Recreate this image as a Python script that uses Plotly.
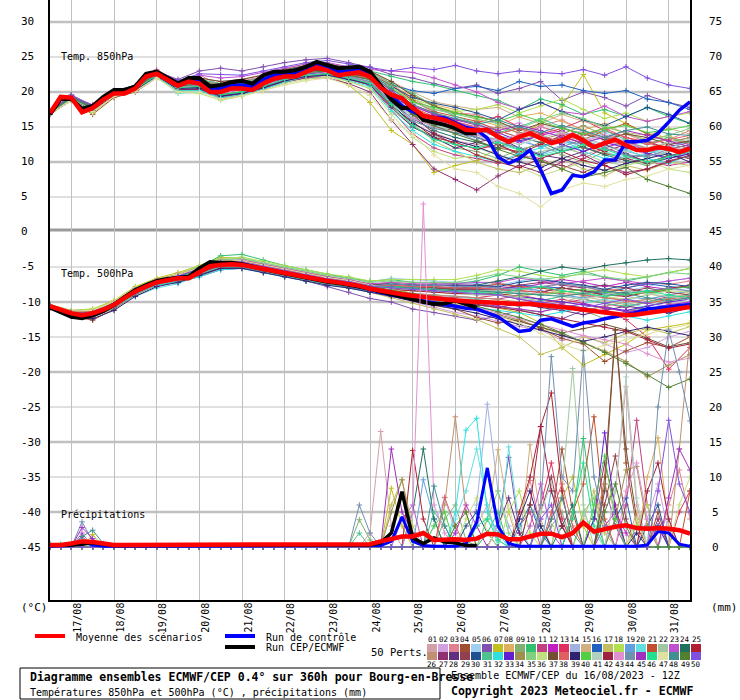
import plotly.graph_objects as go

# ---------------- DATA ----------------
H6 = list(range(0, 361, 6))      # 6-hourly steps (0..360 h from 16/08 12Z)
H12 = list(range(0, 361, 12))    # 12-hourly steps for members' temperatures

MEAN_850 = [17.0, 19.3, 19.2, 17.1, 17.7, 18.9, 19.8, 19.8, 20.5, 22.2, 22.6, 21.7, 20.9, 21.5, 21.2, 20.0,
            20.0, 20.5, 20.5, 20.3, 21.2, 21.9, 22.2, 22.2, 22.9, 23.5, 23.1, 22.4, 22.6, 22.8, 22.2, 20.6,
            19.6, 19.1, 17.7, 16.6, 16.3, 16.0, 15.4, 14.6, 14.5, 14.6, 13.6, 12.9, 13.6, 14.1, 13.4, 12.7,
            13.1, 13.9, 13.1, 12.1, 12.7, 13.2, 12.4, 11.7, 11.7, 12.1, 11.9, 11.4, 11.9]
RUN_850 = [16.8, 19.0, 19.0, 17.6, 18.0, 19.3, 20.3, 20.3, 20.8, 22.6, 22.9, 22.0, 21.2, 22.0, 22.0, 20.8,
           21.0, 21.4, 21.6, 21.2, 22.4, 22.9, 22.9, 23.1, 23.6, 24.3, 23.9, 23.4, 23.5, 23.6, 22.9, 20.9,
           18.9, 17.7, 17.8, 16.0, 15.7, 15.3, 14.8, 14.1, 14.1]
CTRL_850 = [17.0, 19.2, 19.1, 17.3, 17.8, 19.0, 20.0, 20.0, 20.6, 22.4, 22.8, 21.8, 21.0, 21.8, 21.6, 20.4,
            20.5, 21.0, 21.0, 20.8, 21.8, 22.4, 22.6, 22.6, 23.2, 23.9, 23.5, 22.9, 23.0, 23.1, 22.5, 20.8,
            19.5, 18.0, 17.2, 16.6, 16.4, 16.3, 15.6, 14.9, 14.6, 13.4, 10.7, 9.8, 10.5, 11.7, 8.9, 5.5,
            6.0, 8.1, 7.9, 8.6, 10.3, 10.3, 12.9, 12.9, 13.1, 14.1, 15.7, 17.4, 18.6]

MEAN_500 = [-10.6, -11.1, -11.6, -11.9, -11.6, -11.1, -10.4, -9.4, -8.5, -7.8, -7.2, -6.9, -6.6, -6.6, -5.7,
            -4.9, -4.7, -4.6, -4.7, -5.0, -5.3, -5.6, -5.9, -6.1, -6.4, -6.8, -7.0, -7.2, -7.4, -7.7, -8.1,
            -8.4, -8.7, -8.9, -9.1, -9.3, -9.5, -9.7, -9.8, -9.9, -10.0, -10.0, -10.1, -10.2, -10.3, -10.3,
            -10.4, -10.6, -10.7, -10.9, -11.1, -11.3, -11.5, -11.7, -11.9, -11.8, -11.6, -11.4, -11.2, -11.0, -10.7]
RUN_500 = [-10.8, -11.5, -12.1, -12.3, -11.9, -11.3, -10.4, -9.3, -8.3, -7.6, -7.0, -6.7, -6.5, -6.4, -5.2,
           -4.3, -4.4, -4.4, -4.6, -5.0, -5.3, -5.6, -5.9, -6.2, -6.5, -6.9, -7.1, -7.3, -7.5, -7.8, -8.1,
           -8.5, -8.9, -9.2, -9.6, -10.0, -10.3, -10.2, -9.8, -10.3, -10.8]
CTRL_500 = [-10.7, -11.2, -11.7, -12.0, -11.7, -11.1, -10.3, -9.3, -8.4, -7.7, -7.1, -6.8, -6.5, -6.4, -5.5,
            -4.7, -4.6, -4.5, -4.7, -5.0, -5.3, -5.6, -5.9, -6.2, -6.5, -6.8, -7.0, -7.2, -7.5, -7.8, -8.2,
            -8.6, -9.0, -9.3, -9.6, -9.9, -10.1, -10.4, -10.6, -10.9, -11.0, -11.5, -12.1, -13.2, -14.2, -14.0,
            -12.6, -12.4, -13.0, -13.5, -13.0, -12.8, -12.4, -12.1, -11.9, -11.5, -11.0, -10.9, -10.7, -10.5, -10.4]

MEAN_PR = [0.3, 0.3, 0.5, 0.8, 0.7, 0.5, 0.3, 0.3, 0.3, 0.3, 0.3, 0.3, 0.3, 0.3, 0.3, 0.3, 0.3, 0.3, 0.3, 0.3,
           0.3, 0.3, 0.3, 0.3, 0.3, 0.3, 0.3, 0.3, 0.3, 0.3, 0.4, 0.8, 1.2, 1.5, 1.5, 2.0, 1.0, 1.1, 1.1, 1.0,
           1.2, 1.9, 1.8, 1.1, 1.1, 1.5, 1.9, 1.9, 1.4, 2.0, 3.5, 2.2, 2.6, 2.9, 3.1, 2.7, 2.6, 2.7, 2.6, 2.4, 1.9]
RUN_PR = [0.2, 0.2, 0.3, 0.4, 0.6, 0.4, 0.2, 0.2, 0.2, 0.2, 0.2, 0.2, 0.2, 0.2, 0.2, 0.2, 0.2, 0.2, 0.2, 0.2,
          0.2, 0.2, 0.2, 0.2, 0.2, 0.2, 0.2, 0.2, 0.2, 0.2, 0.3, 0.6, 2.0, 7.9, 1.3, 0.5, 1.3, 0.7, 0.6, 0.2, 0.2]
CTRL_PR = [0.1, 0.1, 0.2, 0.8, 0.3, 0.1, 0.1, 0.1, 0.1, 0.1, 0.1, 0.1, 0.1, 0.1, 0.1, 0.1, 0.1, 0.1, 0.1, 0.1,
           0.1, 0.1, 0.1, 0.1, 0.1, 0.1, 0.1, 0.1, 0.1, 0.1, 0.1, 0.2, 0.8, 4.3, 0.8, 0.2, 0.1, 0.1, 0.1, 0.5,
           3.5, 11.3, 3.0, 0.5, 0.1, 0.1, 0.1, 0.1, 0.1, 0.1, 0.1, 0.1, 0.1, 0.1, 0.1, 0.1, 0.3, 2.2, 2.0, 0.4, 0.1]

MEMBERS_850 = [
    [17.2, 19.5, 17.9, 20.1, 20.6, 23.0, 21.4, 22.0, 21.5, 21.8, 22.5, 23.4, 24.0, 23.8, 23.0, 22.5, 19.8, 16.5, 14.2, 13.0, 12.5, 11.8, 13.2, 14.0, 12.5, 11.0, 12.0, 13.5, 12.8, 11.5, 12.2],
    [16.9, 19.0, 17.5, 19.6, 20.3, 22.2, 20.5, 20.8, 19.5, 20.0, 21.0, 22.0, 22.8, 23.0, 22.4, 22.0, 20.5, 18.8, 17.0, 16.2, 15.5, 14.8, 15.6, 14.2, 13.8, 14.5, 13.0, 12.2, 11.0, 12.5, 13.0],
    [17.1, 19.3, 18.2, 20.2, 20.9, 23.2, 21.5, 22.4, 21.0, 21.6, 22.2, 23.0, 23.5, 24.0, 23.4, 23.0, 21.2, 19.0, 17.5, 17.0, 16.8, 15.5, 14.0, 15.2, 16.0, 14.5, 13.5, 14.0, 12.8, 13.2, 14.5],
    [16.8, 18.8, 16.8, 19.2, 20.0, 22.0, 20.2, 20.5, 19.8, 20.2, 21.4, 22.5, 23.2, 23.6, 22.8, 22.4, 19.0, 16.8, 15.0, 14.5, 13.0, 12.0, 11.5, 12.8, 13.5, 12.0, 11.2, 10.5, 11.0, 12.5, 12.0],
    [17.0, 19.1, 17.6, 19.8, 20.4, 22.5, 20.8, 21.0, 20.2, 20.8, 21.5, 22.4, 23.0, 23.2, 22.5, 21.8, 18.5, 16.0, 15.5, 14.0, 13.2, 14.5, 13.5, 12.0, 11.5, 13.0, 14.2, 13.0, 12.0, 11.0, 10.5],
    [17.3, 19.6, 18.0, 20.0, 20.8, 22.9, 21.8, 23.0, 23.4, 23.0, 23.6, 24.2, 24.6, 24.8, 24.2, 23.5, 22.5, 22.0, 21.2, 20.5, 21.0, 19.8, 20.5, 21.5, 18.8, 20.0, 19.2, 18.0, 19.5, 18.5, 17.8],
    [16.9, 19.0, 17.0, 19.4, 20.2, 22.3, 20.0, 20.5, 19.0, 19.5, 20.5, 21.5, 22.0, 22.5, 21.0, 18.5, 14.5, 12.5, 8.5, 9.5, 10.2, 12.0, 14.0, 15.5, 18.0, 22.5, 17.0, 15.5, 14.0, 13.5, 12.5],
    [17.1, 19.2, 17.8, 19.9, 20.6, 22.7, 21.0, 21.6, 20.8, 21.0, 21.8, 22.8, 23.4, 23.2, 22.8, 22.4, 20.8, 19.5, 18.2, 17.5, 16.0, 15.2, 16.5, 17.0, 15.8, 14.6, 15.5, 14.0, 13.2, 13.8, 12.5],
    [17.0, 19.2, 17.4, 19.7, 20.4, 22.4, 20.6, 20.6, 19.6, 20.2, 20.8, 21.8, 22.5, 22.6, 22.0, 21.5, 18.0, 15.0, 13.5, 12.0, 11.5, 10.5, 11.8, 12.5, 11.0, 10.0, 11.5, 10.2, 9.5, 10.8, 11.5],
    [17.2, 19.4, 18.0, 20.0, 20.7, 22.8, 21.2, 21.4, 20.5, 21.0, 21.6, 22.6, 23.2, 23.6, 23.2, 23.0, 22.2, 21.5, 21.0, 20.2, 19.5, 18.8, 17.5, 19.0, 18.2, 16.8, 17.5, 16.5, 17.8, 16.5, 15.5],
    [16.8, 18.9, 17.2, 19.5, 20.2, 22.3, 20.4, 20.2, 19.0, 19.6, 20.4, 21.4, 22.0, 22.4, 21.8, 21.0, 17.5, 14.0, 12.0, 11.0, 10.5, 9.8, 11.0, 10.5, 9.0, 10.5, 12.0, 11.0, 10.0, 9.5, 10.0],
    [17.1, 19.3, 17.8, 19.9, 20.5, 22.6, 21.0, 21.5, 20.4, 20.6, 21.2, 22.2, 22.8, 23.4, 23.0, 22.6, 20.2, 18.0, 16.8, 15.8, 14.8, 13.5, 12.8, 13.8, 14.5, 13.0, 12.0, 13.0, 11.5, 12.2, 12.8],
    [17.0, 19.1, 17.6, 19.7, 20.4, 22.5, 20.8, 21.2, 20.0, 20.4, 21.0, 22.0, 22.6, 23.0, 22.5, 22.0, 20.0, 18.2, 17.0, 16.0, 15.6, 16.5, 15.0, 14.0, 14.8, 16.0, 14.5, 13.5, 12.8, 11.8, 11.0],
    [16.9, 19.0, 17.4, 19.6, 20.3, 22.4, 20.7, 21.0, 20.0, 20.6, 21.0, 21.8, 22.5, 22.8, 22.2, 21.5, 19.0, 17.2, 16.0, 15.0, 14.0, 13.0, 12.0, 11.0, 12.5, 13.5, 12.5, 11.5, 10.8, 11.5, 12.0],
    [17.2, 19.4, 17.9, 20.1, 20.8, 22.9, 21.2, 21.8, 21.2, 21.4, 22.0, 22.8, 23.6, 23.8, 23.2, 22.8, 21.5, 20.0, 18.6, 18.0, 17.5, 17.8, 16.4, 15.5, 16.8, 15.8, 15.0, 14.2, 13.8, 14.8, 14.0],
    [17.0, 19.2, 17.7, 19.8, 20.5, 22.6, 20.9, 21.6, 20.8, 21.2, 22.0, 23.0, 23.8, 23.5, 22.8, 22.4, 21.0, 20.2, 19.8, 20.5, 20.8, 20.2, 21.5, 20.8, 21.0, 20.2, 19.8, 20.2, 19.0, 18.5, 17.5],
    [17.1, 19.3, 17.9, 19.9, 20.6, 22.5, 20.6, 21.0, 19.8, 20.2, 21.0, 22.2, 22.8, 23.0, 22.2, 21.2, 18.2, 15.5, 13.0, 11.5, 10.0, 9.0, 8.5, 9.5, 10.5, 9.0, 8.0, 9.5, 8.8, 10.0, 9.5],
    [16.9, 19.0, 17.5, 19.6, 20.4, 22.4, 20.8, 21.4, 20.5, 20.8, 21.4, 22.4, 23.0, 23.0, 22.4, 22.0, 20.5, 19.0, 18.0, 17.2, 17.5, 18.2, 17.0, 18.0, 19.0, 17.5, 16.2, 17.0, 15.8, 16.5, 17.0],
    [17.0, 19.2, 17.8, 19.8, 20.5, 22.7, 21.1, 21.2, 20.2, 20.8, 21.4, 22.2, 22.8, 23.2, 22.6, 22.2, 19.8, 17.0, 15.5, 15.0, 14.5, 13.8, 13.0, 12.2, 13.0, 12.5, 13.8, 12.5, 11.8, 10.5, 11.5],
    [17.2, 19.4, 17.6, 20.0, 20.4, 22.2, 19.8, 20.0, 19.2, 19.8, 20.6, 21.8, 22.4, 22.8, 22.2, 21.6, 18.8, 16.5, 14.8, 14.2, 13.5, 12.5, 11.8, 11.0, 11.8, 12.8, 11.5, 10.5, 11.2, 12.0, 13.0],
    [17.0, 19.1, 17.6, 19.7, 20.3, 22.5, 20.8, 21.6, 21.0, 21.5, 22.0, 22.8, 23.4, 23.6, 22.8, 22.6, 21.0, 18.8, 17.2, 16.5, 15.8, 14.5, 13.5, 15.0, 14.2, 13.2, 14.5, 15.5, 14.0, 13.0, 12.8],
    [16.9, 19.0, 17.5, 19.6, 20.3, 22.3, 20.5, 20.8, 19.8, 20.2, 21.2, 22.0, 22.5, 22.5, 21.5, 20.5, 17.5, 15.0, 13.8, 12.5, 12.0, 11.0, 10.2, 11.5, 12.0, 11.2, 10.0, 9.5, 10.5, 11.5, 12.0],
    [17.1, 19.3, 17.8, 19.9, 20.6, 22.8, 21.4, 22.4, 22.0, 22.2, 22.8, 23.4, 24.0, 24.2, 23.6, 23.2, 23.0, 22.8, 22.0, 21.0, 20.0, 18.5, 17.6, 18.5, 17.2, 16.8, 18.0, 16.5, 15.8, 16.5, 17.2],
    [17.0, 19.2, 17.7, 19.8, 20.4, 22.5, 20.6, 20.6, 19.6, 20.0, 20.8, 21.8, 22.4, 22.8, 22.0, 21.4, 18.5, 16.2, 14.5, 13.5, 12.8, 12.0, 13.5, 12.8, 11.5, 12.2, 11.0, 10.2, 9.8, 10.5, 11.2],
    [16.8, 18.9, 17.3, 19.5, 20.2, 22.3, 20.3, 20.4, 19.2, 19.8, 20.6, 21.6, 22.2, 22.6, 21.8, 21.0, 18.0, 15.8, 13.5, 12.8, 11.8, 12.5, 11.2, 12.5, 13.8, 12.5, 11.5, 12.5, 13.0, 11.8, 12.5],
    [17.2, 19.5, 18.0, 20.0, 20.7, 22.8, 21.2, 21.8, 21.0, 21.4, 21.8, 22.6, 23.2, 23.4, 22.8, 22.2, 20.0, 17.8, 16.2, 15.2, 14.8, 14.0, 14.8, 13.5, 13.0, 14.2, 13.5, 12.0, 11.5, 12.8, 13.5],
    [17.0, 19.2, 17.6, 19.7, 20.3, 22.4, 20.6, 20.8, 19.5, 19.8, 20.5, 21.5, 22.0, 22.0, 21.2, 20.0, 16.0, 12.5, 9.0, 7.5, 6.0, 8.0, 9.5, 8.5, 10.0, 11.0, 9.5, 8.5, 9.0, 10.2, 10.8],
    [16.9, 19.0, 17.4, 19.6, 20.2, 22.2, 20.4, 20.4, 19.4, 19.8, 20.8, 21.8, 22.6, 22.8, 22.0, 21.0, 17.8, 15.0, 13.5, 12.0, 12.8, 13.5, 12.0, 11.0, 10.5, 11.5, 12.5, 11.2, 10.0, 10.8, 11.8],
    [17.1, 19.3, 17.8, 19.9, 20.5, 22.6, 21.0, 21.2, 20.4, 20.8, 21.6, 22.6, 23.0, 23.2, 22.6, 22.0, 19.5, 17.0, 15.5, 14.8, 13.5, 12.5, 11.0, 10.0, 9.5, 8.5, 9.8, 10.5, 9.8, 11.0, 10.5],
    [17.0, 19.2, 17.7, 19.8, 20.5, 22.6, 20.9, 21.4, 20.6, 21.0, 21.6, 22.4, 23.0, 23.4, 22.8, 22.4, 20.8, 19.2, 18.4, 17.8, 17.0, 16.0, 17.5, 18.5, 17.2, 16.0, 15.2, 16.5, 17.8, 16.8, 15.5],
    [17.2, 19.4, 17.9, 20.0, 20.7, 22.8, 21.3, 21.8, 21.2, 21.5, 22.0, 23.0, 23.5, 23.6, 23.0, 22.8, 21.2, 19.8, 18.0, 16.5, 15.5, 14.2, 15.0, 16.2, 15.0, 13.8, 14.5, 13.2, 12.5, 13.5, 12.8],
    [16.9, 19.0, 17.3, 19.6, 20.3, 22.2, 20.2, 20.2, 19.2, 19.6, 20.4, 21.4, 22.2, 22.4, 21.6, 20.8, 17.2, 14.5, 12.5, 11.5, 10.8, 10.0, 11.2, 12.0, 13.2, 11.5, 10.5, 11.8, 10.5, 9.8, 11.0],
    [17.0, 19.1, 17.5, 19.7, 20.4, 22.4, 20.6, 21.0, 19.8, 20.4, 21.0, 22.0, 22.6, 22.8, 22.2, 21.8, 19.6, 17.5, 16.0, 15.4, 14.8, 14.2, 13.0, 13.8, 12.5, 11.5, 12.8, 12.0, 11.2, 10.5, 11.2],
    [17.1, 19.3, 17.7, 19.9, 20.5, 22.6, 20.8, 21.2, 20.2, 20.6, 21.2, 22.2, 22.8, 23.0, 22.4, 21.8, 19.2, 16.8, 15.8, 15.0, 14.2, 15.0, 14.2, 13.2, 14.0, 15.2, 13.8, 12.8, 12.0, 12.8, 13.5],
    [17.0, 19.2, 17.8, 19.8, 20.6, 22.7, 21.1, 21.5, 20.6, 21.0, 21.8, 22.6, 23.2, 23.4, 22.8, 22.5, 20.8, 18.5, 17.5, 16.8, 16.2, 15.5, 14.8, 16.0, 17.0, 16.2, 15.0, 14.2, 13.0, 13.8, 14.8],
    [16.8, 18.8, 17.0, 19.4, 20.1, 22.0, 20.0, 19.8, 18.8, 19.4, 20.2, 21.2, 21.8, 22.2, 21.5, 20.5, 16.8, 13.5, 11.5, 10.5, 11.0, 10.2, 9.2, 8.0, 9.0, 10.0, 8.8, 9.5, 10.2, 9.0, 8.5],
    [17.2, 19.4, 18.0, 20.0, 20.7, 22.8, 21.3, 22.0, 21.5, 21.8, 22.4, 23.2, 23.8, 24.0, 23.5, 23.0, 21.5, 19.5, 18.0, 17.0, 16.5, 15.8, 14.5, 15.5, 14.8, 14.0, 13.2, 14.0, 13.5, 12.5, 13.0],
    [17.0, 19.1, 17.6, 19.7, 20.4, 22.4, 20.7, 21.0, 20.0, 20.4, 21.2, 22.2, 22.8, 23.0, 22.4, 22.0, 19.8, 17.8, 16.5, 15.8, 15.0, 14.0, 14.8, 13.8, 12.8, 13.8, 14.8, 13.5, 12.5, 13.2, 13.8],
    [16.9, 19.0, 17.4, 19.5, 20.3, 22.3, 20.5, 20.6, 19.4, 19.8, 20.6, 21.6, 22.2, 22.4, 21.8, 21.2, 18.2, 15.5, 14.0, 13.0, 12.2, 11.0, 10.0, 9.2, 10.5, 9.5, 8.8, 9.8, 10.5, 11.2, 10.0],
    [17.1, 19.3, 17.8, 19.9, 20.6, 22.6, 21.0, 21.4, 20.6, 21.0, 21.6, 22.6, 23.2, 23.4, 22.6, 22.2, 20.4, 18.6, 17.8, 17.0, 16.4, 15.8, 16.8, 15.8, 14.8, 14.0, 14.8, 15.2, 14.2, 14.6, 15.2],
    [17.0, 19.2, 17.7, 19.8, 20.5, 22.5, 20.8, 21.2, 20.2, 20.6, 21.2, 22.2, 22.8, 23.0, 22.2, 21.6, 19.0, 16.5, 15.2, 14.6, 14.0, 13.2, 12.5, 13.5, 14.2, 13.5, 12.2, 11.5, 12.0, 12.8, 13.2],
    [17.2, 19.4, 17.9, 20.0, 20.6, 22.7, 21.1, 21.4, 20.4, 20.8, 21.4, 22.4, 23.0, 23.2, 22.6, 22.2, 19.6, 16.8, 14.0, 12.5, 11.0, 10.0, 9.2, 10.5, 11.5, 10.2, 9.5, 8.2, 9.0, 10.0, 11.0],
    [16.9, 19.0, 17.5, 19.6, 20.4, 22.4, 20.6, 21.0, 19.8, 20.4, 21.0, 21.8, 22.4, 22.8, 22.0, 21.4, 18.8, 16.2, 15.0, 14.2, 13.8, 13.0, 14.0, 15.0, 14.0, 13.0, 13.8, 12.8, 11.8, 12.2, 11.5],
    [17.0, 19.2, 17.6, 19.8, 20.5, 22.5, 20.8, 21.0, 20.0, 20.5, 21.2, 22.0, 22.6, 23.0, 22.2, 21.5, 18.5, 15.8, 14.8, 14.2, 13.5, 12.8, 12.0, 11.2, 12.2, 13.2, 12.0, 11.0, 10.8, 11.8, 12.5],
    [17.1, 19.3, 17.8, 19.9, 20.6, 22.7, 21.0, 21.4, 20.4, 21.0, 21.6, 22.6, 23.2, 23.4, 22.8, 22.4, 20.2, 18.0, 16.8, 16.0, 15.2, 14.5, 15.2, 14.5, 13.5, 12.8, 13.5, 14.5, 13.8, 13.0, 12.2],
    [17.0, 19.1, 17.6, 19.7, 20.4, 22.4, 20.6, 20.8, 19.6, 20.0, 20.8, 21.8, 22.4, 22.6, 22.0, 21.2, 18.2, 15.2, 13.2, 12.5, 12.0, 12.8, 11.8, 10.8, 11.5, 12.5, 11.8, 10.8, 10.0, 10.8, 11.5],
    [16.9, 18.9, 17.2, 19.4, 20.1, 22.0, 20.0, 20.0, 19.0, 19.5, 20.2, 21.0, 21.6, 22.0, 21.0, 19.5, 16.0, 14.0, 11.0, 9.0, 8.5, 6.5, 5.5, 3.6, 6.0, 7.0, 6.5, 7.5, 8.0, 9.0, 9.5],
    [17.1, 19.4, 17.9, 20.0, 20.6, 22.8, 21.2, 21.6, 20.8, 21.2, 21.8, 22.8, 23.4, 23.6, 23.0, 22.6, 20.5, 18.2, 17.0, 16.2, 15.4, 16.0, 15.0, 14.2, 15.2, 14.5, 13.5, 14.5, 15.0, 14.0, 13.8],
    [17.0, 19.2, 17.7, 19.8, 20.5, 22.6, 20.8, 21.2, 20.2, 20.6, 21.2, 22.2, 22.8, 23.0, 22.4, 21.8, 19.2, 16.8, 15.2, 14.0, 13.0, 11.8, 10.8, 10.2, 9.0, 7.8, 8.5, 9.2, 7.5, 6.5, 5.5],
    [17.2, 19.5, 18.1, 20.2, 20.9, 23.0, 21.6, 22.6, 22.5, 22.4, 23.0, 23.6, 24.2, 24.5, 24.0, 23.6, 23.0, 23.5, 23.2, 23.8, 23.0, 22.6, 23.0, 22.8, 22.6, 23.2, 22.4, 23.6, 22.0, 21.0, 20.5],
]

MEMBERS_500 = [
    [-10.5, -11.4, -11.8, -10.2, -8.2, -7.0, -6.2, -5.2, -4.2, -4.4, -5.0, -5.6, -6.0, -6.8, -7.0, -7.6, -7.2, -7.4, -7.8, -7.5, -7.8, -8.0, -8.6, -9.0, -8.2, -7.5, -8.4, -9.2, -8.6, -8.0, -7.8],
    [-10.7, -11.8, -11.4, -10.6, -8.8, -7.5, -6.8, -5.8, -4.8, -4.6, -5.4, -6.2, -6.8, -7.2, -7.8, -8.4, -9.2, -10.0, -10.8, -11.5, -12.0, -12.8, -13.5, -14.0, -15.5, -14.8, -16.0, -17.2, -16.5, -15.0, -14.2],
    [-10.6, -11.5, -11.7, -10.3, -8.4, -7.0, -6.4, -5.5, -4.5, -4.5, -5.0, -5.5, -6.0, -6.6, -7.0, -7.6, -7.4, -7.6, -7.5, -7.8, -7.9, -7.2, -7.8, -8.0, -7.4, -7.8, -8.6, -8.0, -7.2, -7.5, -7.0],
    [-10.8, -12.0, -12.6, -11.0, -9.0, -7.6, -7.0, -6.2, -5.2, -5.0, -5.6, -6.2, -6.8, -7.4, -7.8, -8.6, -9.0, -9.8, -10.5, -11.0, -12.2, -13.0, -12.5, -13.8, -15.2, -16.0, -18.5, -17.0, -15.8, -16.5, -15.0],
    [-10.5, -11.3, -11.2, -10.0, -8.0, -6.8, -6.0, -5.0, -3.8, -3.6, -4.4, -5.0, -5.6, -6.2, -6.6, -7.2, -6.6, -6.8, -7.0, -7.2, -7.4, -7.6, -7.0, -6.6, -7.2, -7.8, -7.6, -8.4, -7.8, -7.0, -6.6],
    [-10.6, -11.6, -12.0, -10.8, -8.8, -7.6, -7.2, -6.4, -5.4, -5.2, -5.8, -6.4, -7.0, -7.8, -8.6, -9.5, -10.0, -11.0, -11.5, -12.0, -12.6, -12.0, -11.2, -11.8, -12.4, -11.2, -10.6, -11.4, -11.0, -11.6, -10.8],
    [-10.4, -11.2, -11.0, -9.8, -7.8, -6.6, -5.8, -4.8, -3.6, -3.8, -4.6, -5.2, -5.8, -6.4, -7.0, -7.5, -8.0, -8.8, -9.2, -9.8, -10.2, -10.8, -11.5, -13.0, -16.5, -19.0, -17.5, -16.0, -14.0, -13.5, -13.0],
    [-10.7, -11.7, -11.6, -10.5, -8.6, -7.2, -6.6, -5.6, -4.6, -4.8, -5.4, -6.0, -6.5, -7.0, -7.4, -8.0, -7.8, -8.0, -8.0, -8.2, -8.2, -8.2, -8.4, -7.8, -8.4, -9.0, -8.6, -8.0, -8.8, -9.4, -8.8],
    [-10.6, -11.6, -11.5, -10.4, -8.4, -7.1, -6.5, -5.4, -4.4, -4.4, -5.2, -5.8, -6.4, -7.0, -7.6, -8.2, -8.4, -8.8, -9.4, -10.0, -10.4, -10.6, -11.2, -11.4, -10.6, -11.2, -12.4, -11.4, -10.6, -9.8, -9.4],
    [-10.5, -11.4, -11.3, -10.1, -8.2, -6.9, -6.2, -5.0, -3.4, -3.2, -4.0, -4.8, -5.4, -6.0, -6.6, -7.0, -6.8, -7.2, -7.2, -7.4, -7.0, -6.2, -5.0, -5.6, -6.2, -5.6, -6.5, -7.0, -6.4, -5.8, -5.2],
    [-10.7, -11.8, -12.2, -10.8, -8.8, -7.4, -6.8, -5.8, -4.8, -4.8, -5.4, -6.0, -6.6, -7.2, -7.8, -8.4, -8.6, -8.8, -9.0, -9.2, -9.4, -9.6, -9.0, -9.6, -10.2, -9.6, -10.2, -10.8, -10.0, -9.2, -9.6],
    [-10.6, -11.5, -11.6, -10.4, -8.5, -7.2, -6.5, -5.6, -4.4, -4.2, -4.8, -5.4, -6.0, -6.6, -7.2, -7.8, -7.4, -7.6, -7.6, -7.6, -7.6, -7.8, -8.0, -7.4, -6.8, -7.2, -7.8, -7.2, -7.8, -8.2, -7.6],
    [-10.5, -11.5, -11.9, -10.5, -8.5, -7.3, -6.7, -5.8, -4.8, -4.8, -5.5, -6.0, -6.6, -7.1, -7.4, -8.0, -8.2, -8.8, -9.2, -9.4, -9.4, -9.0, -9.6, -10.2, -9.6, -10.2, -11.0, -12.5, -15.0, -19.6, -16.5],
    [-10.8, -11.9, -11.8, -10.6, -8.7, -7.4, -6.8, -5.8, -4.8, -4.6, -5.2, -5.8, -6.4, -7.0, -7.4, -8.0, -8.0, -8.2, -8.2, -8.4, -8.4, -8.6, -8.8, -8.0, -8.4, -8.8, -9.4, -9.8, -9.0, -8.2, -8.4],
    [-10.6, -11.6, -11.4, -10.2, -8.2, -7.0, -6.4, -5.4, -4.2, -4.2, -4.8, -5.6, -6.2, -6.8, -7.2, -7.8, -7.6, -8.0, -8.0, -8.2, -8.4, -8.8, -9.2, -9.6, -10.0, -9.2, -9.8, -10.4, -9.6, -9.0, -8.6],
    [-10.5, -11.4, -11.6, -10.4, -8.6, -7.2, -6.5, -5.5, -4.5, -4.6, -5.2, -5.8, -6.3, -6.8, -7.2, -7.8, -7.8, -8.0, -8.0, -8.0, -8.2, -8.4, -7.6, -7.8, -8.0, -8.4, -8.8, -8.0, -7.4, -7.8, -8.0],
    [-10.7, -11.7, -11.9, -10.7, -8.8, -7.5, -6.9, -6.0, -5.0, -5.0, -5.6, -6.2, -6.8, -7.4, -8.0, -8.6, -9.4, -10.2, -11.0, -11.8, -12.5, -13.8, -15.0, -17.5, -16.5, -15.0, -15.8, -14.5, -13.8, -14.5, -13.5],
    [-10.4, -11.2, -11.0, -9.9, -7.9, -6.7, -6.0, -4.8, -3.8, -3.6, -4.2, -4.8, -5.4, -6.0, -6.4, -7.0, -6.8, -6.8, -6.8, -6.8, -6.2, -5.4, -5.6, -6.2, -6.6, -5.8, -5.4, -6.0, -6.4, -5.8, -5.2],
    [-10.6, -11.6, -11.7, -10.5, -8.6, -7.3, -6.7, -5.6, -4.6, -4.6, -5.2, -5.8, -6.4, -7.0, -7.5, -8.1, -8.0, -8.0, -8.2, -8.2, -8.2, -8.4, -8.0, -8.4, -9.0, -9.4, -8.8, -9.2, -9.6, -9.0, -8.4],
    [-10.6, -11.5, -11.6, -10.6, -9.2, -8.0, -7.4, -6.2, -5.0, -4.8, -5.4, -6.0, -6.6, -7.2, -7.6, -8.4, -8.6, -8.8, -9.0, -9.2, -9.6, -10.0, -10.4, -10.6, -11.0, -10.2, -9.6, -10.2, -10.8, -11.2, -10.4],
    [-10.5, -11.4, -11.5, -10.3, -8.3, -7.0, -6.3, -5.3, -4.3, -4.3, -4.9, -5.5, -6.1, -6.7, -7.1, -7.7, -7.6, -7.8, -8.0, -8.2, -8.0, -7.4, -7.8, -8.0, -8.4, -8.8, -8.2, -8.4, -8.8, -8.2, -7.6],
    [-10.7, -11.8, -12.0, -10.8, -8.8, -7.4, -6.8, -5.8, -4.8, -4.8, -5.5, -6.2, -6.8, -7.3, -7.6, -8.2, -8.2, -8.4, -8.6, -8.8, -9.0, -9.0, -9.4, -9.8, -9.2, -8.6, -9.2, -9.8, -10.2, -9.6, -9.0],
    [-10.6, -11.6, -11.5, -10.3, -8.3, -7.0, -6.3, -5.2, -4.0, -4.0, -4.6, -5.2, -5.8, -6.4, -6.8, -7.4, -7.2, -7.4, -7.4, -7.4, -7.2, -7.2, -6.6, -7.0, -7.4, -7.0, -6.6, -7.0, -7.4, -7.0, -6.6],
    [-10.5, -11.5, -11.8, -10.6, -8.6, -7.3, -6.6, -5.6, -4.6, -4.5, -5.1, -5.7, -6.3, -6.9, -7.3, -7.9, -7.8, -8.0, -8.2, -8.2, -7.6, -7.0, -6.4, -5.6, -5.0, -5.4, -4.8, -4.4, -4.0, -3.8, -4.0],
    [-10.6, -11.6, -11.7, -10.5, -8.6, -7.3, -6.7, -5.7, -4.7, -4.7, -5.3, -5.9, -6.5, -7.1, -7.5, -8.1, -8.2, -8.4, -8.6, -8.8, -8.8, -8.8, -9.2, -8.6, -8.0, -8.4, -9.0, -9.2, -8.6, -8.0, -7.8],
    [-10.7, -11.7, -11.8, -10.6, -8.7, -7.4, -6.8, -5.9, -4.9, -4.9, -5.5, -6.1, -6.7, -7.3, -7.7, -8.3, -8.4, -8.8, -9.0, -9.2, -9.4, -9.6, -10.0, -10.4, -10.8, -11.2, -10.6, -10.0, -9.6, -10.2, -10.6],
    [-10.5, -11.3, -11.3, -10.1, -8.1, -6.8, -6.1, -5.1, -4.1, -4.1, -4.7, -5.3, -5.9, -6.5, -6.9, -7.5, -7.4, -7.6, -7.8, -8.0, -8.0, -8.2, -7.6, -7.2, -7.6, -8.0, -7.6, -8.0, -8.6, -8.2, -7.6],
    [-10.6, -11.6, -11.9, -10.7, -8.7, -7.4, -6.9, -6.1, -5.1, -5.1, -5.6, -6.2, -6.8, -7.4, -7.9, -8.5, -8.8, -9.2, -9.6, -10.0, -10.4, -10.8, -10.2, -10.8, -11.2, -11.8, -11.2, -10.6, -11.0, -11.6, -10.8],
    [-10.6, -11.5, -11.6, -10.4, -8.4, -7.1, -6.4, -5.4, -4.4, -4.4, -5.0, -5.6, -6.2, -6.8, -7.2, -7.8, -7.8, -8.0, -8.0, -8.2, -8.2, -8.4, -8.4, -8.6, -8.0, -8.4, -9.0, -8.6, -8.0, -8.6, -9.0],
    [-10.5, -11.4, -11.5, -10.3, -8.3, -7.0, -6.3, -5.2, -4.2, -4.2, -4.8, -5.4, -6.0, -6.6, -7.0, -7.6, -7.4, -7.6, -7.6, -7.6, -7.6, -7.8, -7.2, -6.8, -7.2, -7.6, -8.2, -7.6, -7.2, -7.4, -7.8],
    [-10.7, -11.8, -12.1, -10.9, -8.9, -7.6, -7.0, -6.0, -5.0, -5.0, -5.6, -6.2, -6.8, -7.4, -7.8, -8.4, -8.6, -9.0, -9.2, -9.6, -9.8, -10.2, -10.6, -9.8, -9.2, -9.6, -10.2, -10.6, -10.0, -9.4, -9.0],
    [-10.6, -11.6, -11.6, -10.4, -8.8, -7.6, -7.2, -6.4, -5.4, -5.2, -5.8, -6.4, -7.0, -7.6, -8.0, -8.6, -8.8, -9.2, -9.8, -10.4, -10.8, -11.2, -11.6, -12.0, -11.4, -10.8, -11.4, -12.0, -12.6, -12.0, -11.4],
    [-10.5, -11.4, -11.6, -10.4, -8.4, -7.1, -6.4, -5.4, -4.4, -4.4, -5.0, -5.6, -6.2, -6.8, -7.3, -7.9, -8.0, -8.2, -8.4, -8.6, -8.8, -9.0, -9.2, -9.6, -10.0, -10.4, -10.8, -11.2, -10.6, -10.0, -9.6],
    [-10.6, -11.6, -11.8, -10.6, -8.6, -7.3, -6.7, -5.7, -4.7, -4.7, -5.3, -5.9, -6.5, -7.1, -7.5, -8.1, -8.6, -9.2, -9.8, -10.4, -11.0, -11.8, -12.6, -13.6, -14.6, -15.8, -17.0, -18.5, -20.7, -19.0, -17.5],
    [-10.4, -11.3, -11.4, -10.2, -8.2, -6.9, -6.2, -5.2, -4.0, -3.8, -4.4, -5.0, -5.6, -6.2, -6.6, -7.2, -7.0, -7.2, -7.2, -7.2, -6.6, -6.0, -6.4, -6.8, -6.4, -6.0, -6.4, -6.8, -6.4, -5.8, -6.0],
    [-10.7, -11.7, -11.7, -10.5, -8.5, -7.2, -6.6, -5.6, -4.6, -4.6, -5.2, -5.8, -6.4, -7.0, -7.4, -8.0, -8.0, -8.2, -8.4, -8.6, -8.8, -9.0, -9.2, -8.8, -8.4, -8.8, -9.2, -9.6, -9.0, -8.4, -8.6],
    [-10.6, -11.6, -11.8, -10.6, -8.6, -7.3, -6.7, -5.7, -4.7, -4.7, -5.3, -5.9, -6.5, -7.1, -7.6, -8.2, -8.8, -9.4, -10.0, -10.6, -11.2, -12.0, -12.8, -13.6, -14.4, -13.8, -13.2, -14.0, -15.2, -16.4, -15.8],
    [-10.5, -11.4, -11.4, -10.2, -8.2, -6.9, -6.2, -5.2, -4.2, -4.2, -4.8, -5.4, -6.0, -6.6, -7.0, -7.6, -7.6, -7.8, -7.8, -8.0, -8.0, -8.2, -8.4, -8.6, -8.8, -9.0, -9.4, -9.8, -10.2, -9.6, -9.2],
    [-10.8, -12.0, -12.4, -11.2, -9.2, -7.8, -7.2, -6.2, -5.2, -5.2, -5.8, -6.4, -7.0, -7.6, -8.0, -8.6, -9.2, -9.8, -10.4, -11.0, -11.6, -12.4, -13.2, -14.0, -14.8, -15.6, -15.0, -14.2, -13.6, -14.2, -14.8],
    [-10.6, -11.6, -11.6, -10.4, -8.4, -7.1, -6.5, -5.5, -4.5, -4.5, -5.1, -5.7, -6.3, -6.9, -7.3, -7.9, -7.8, -8.0, -8.2, -8.4, -8.4, -8.6, -8.8, -9.0, -8.6, -8.2, -8.6, -9.0, -8.6, -8.2, -7.8],
    [-10.5, -11.5, -11.7, -10.5, -8.5, -7.2, -6.5, -5.5, -4.5, -4.5, -5.1, -5.7, -6.3, -6.9, -7.3, -7.9, -7.8, -8.0, -8.2, -8.4, -8.4, -8.4, -8.6, -8.8, -9.2, -9.6, -9.0, -8.4, -8.8, -9.2, -9.6],
    [-10.6, -11.6, -11.9, -10.7, -8.7, -7.4, -6.8, -5.8, -4.8, -4.8, -5.4, -6.0, -6.6, -7.2, -7.6, -8.2, -8.8, -9.2, -9.6, -10.0, -10.4, -10.8, -11.2, -11.8, -12.4, -13.0, -13.6, -14.2, -15.4, -16.6, -16.0],
    [-10.6, -11.5, -11.5, -10.3, -8.3, -7.0, -6.3, -5.3, -4.3, -4.3, -4.9, -5.5, -6.1, -6.7, -7.1, -7.8, -8.4, -9.0, -9.6, -10.2, -10.8, -11.6, -12.4, -13.2, -14.0, -14.8, -15.4, -16.0, -17.4, -18.6, -18.0],
    [-10.5, -11.4, -11.6, -10.4, -8.4, -7.1, -6.4, -5.4, -4.4, -4.4, -5.0, -5.6, -6.2, -6.8, -7.2, -7.8, -7.4, -7.6, -7.6, -7.8, -7.8, -8.0, -8.2, -7.8, -7.4, -7.8, -8.4, -8.8, -8.4, -8.0, -8.4],
    [-10.7, -11.8, -11.9, -10.7, -8.7, -7.4, -6.8, -5.8, -4.8, -4.8, -5.4, -6.0, -6.6, -7.2, -7.6, -8.2, -8.6, -9.0, -9.4, -9.8, -10.2, -10.6, -11.0, -11.4, -10.8, -10.2, -10.8, -11.4, -11.0, -10.4, -10.0],
    [-10.6, -11.6, -11.6, -10.4, -8.4, -7.1, -6.5, -5.5, -4.5, -4.5, -5.1, -5.7, -6.3, -6.9, -7.3, -7.9, -7.8, -8.0, -8.2, -8.4, -8.6, -8.8, -8.2, -7.8, -8.4, -8.8, -9.2, -8.8, -8.4, -9.0, -9.4],
    [-10.5, -11.3, -11.2, -10.0, -8.0, -6.8, -6.1, -5.1, -4.1, -4.1, -4.7, -5.3, -5.9, -6.5, -6.9, -7.6, -8.2, -8.8, -9.4, -10.2, -11.0, -12.0, -13.0, -14.5, -16.0, -17.0, -16.2, -15.4, -14.6, -13.8, -13.2],
    [-10.6, -11.6, -11.7, -10.5, -8.5, -7.2, -6.6, -5.6, -4.6, -4.6, -5.2, -5.8, -6.4, -7.0, -7.4, -8.0, -7.8, -8.0, -8.2, -8.4, -8.4, -8.6, -8.8, -9.0, -9.2, -8.8, -8.4, -8.8, -9.4, -9.8, -9.4],
    [-10.5, -11.5, -11.6, -10.4, -8.4, -7.1, -6.4, -5.4, -4.4, -4.4, -5.0, -5.6, -6.2, -6.8, -7.2, -7.8, -8.3, -8.8, -9.4, -10.0, -10.6, -11.4, -12.2, -13.2, -14.4, -15.8, -17.2, -18.8, -20.4, -22.2, -21.0],
    [-10.6, -11.6, -11.5, -10.3, -8.3, -7.0, -6.3, -5.3, -4.3, -4.3, -4.9, -5.5, -6.1, -6.7, -7.1, -7.7, -8.0, -8.2, -8.4, -8.6, -8.8, -9.0, -9.6, -10.0, -10.4, -10.8, -10.2, -9.6, -10.2, -10.6, -10.2],
]

# precipitation (mm) per member, 6-hourly (61 steps)
MEMBERS_PR = [
    [0, 0, 0, 1.0, 0, 0, 0, 0, 0, 0, 0, 0, 0, 0, 0, 0, 0, 0, 0, 0, 0, 0, 0, 0, 0, 0, 0, 0, 0, 0, 2, 16.5, 3, 0, 0, 0, 0, 0, 0, 0, 0, 0, 0, 0, 0, 0, 0, 0, 0, 0, 0, 0, 0, 8, 22.9, 6, 0, 0, 0, 0, 0],
    [0, 0, 0.5, 0, 0, 0, 0, 0, 0, 0, 0, 0, 0, 0, 0, 0, 0, 0, 0, 0, 0, 0, 0, 0, 0, 0, 0, 0, 0, 0, 0, 0, 0, 0, 0, 0, 0, 0, 0, 0, 3, 6, 1, 0, 0, 0, 0, 0, 0, 0, 0, 0, 0, 0, 0, 0, 4, 9, 2, 0, 0],
    [0, 0, 0, 0, 0, 0, 0, 0, 0, 0, 0, 0, 0, 0, 0, 0, 0, 0, 0, 0, 0, 0, 0, 0, 0, 0, 0, 0, 0, 0, 0, 0, 0, 0, 0, 0, 0, 0, 0, 0, 0, 0, 0, 0, 4, 9.5, 3, 0, 0, 0, 0, 0, 0, 0, 0, 0, 0, 0, 6, 11, 4],
    [0, 0, 0, 0, 0, 0, 0, 0, 0, 0, 0, 0, 0, 0, 0, 0, 0, 0, 0, 0, 0, 0, 0, 0, 0, 0, 0, 0, 0, 0, 0, 0, 0, 0, 0, 0, 0, 0, 0, 0, 0, 0, 0, 0, 0, 0, 0, 4, 14, 5, 0, 0, 10, 31, 12, 3, 0, 5, 0, 0, 0],
    [0, 0, 0, 0.8, 0, 0, 0, 0, 0, 0, 0, 0, 0, 0, 0, 0, 0, 0, 0, 0, 0, 0, 0, 0, 0, 0, 0, 0, 0, 0, 0, 0, 0, 0, 0, 0, 3, 7, 2, 0, 0, 0, 0, 0, 0, 0, 0, 0, 0, 0, 5, 2, 0, 0, 0, 0, 0, 0, 0, 0, 0],
    [0, 0, 0, 0, 0, 0, 0, 0, 0, 0, 0, 0, 0, 0, 0, 0, 0, 0, 0, 0, 0, 0, 0, 0, 0, 0, 0, 0, 0, 0, 0, 0, 0, 0, 0, 0, 0, 0, 0, 0, 0, 0, 3, 12.8, 2, 0, 0, 0, 0, 0, 0, 0, 9, 3, 0, 0, 0, 0, 0, 0, 0],
    [0, 0, 0, 0, 1.8, 0, 0, 0, 0, 0, 0, 0, 0, 0, 0, 0, 0, 0, 0, 0, 0, 0, 0, 0, 0, 0, 0, 0, 0, 0, 0, 0, 8.4, 3, 0, 0, 0, 0, 0, 0, 0, 0, 0, 0, 0, 0, 0, 0, 7, 10, 3, 0, 0, 0, 0, 0, 0, 0, 0, 0, 0],
    [0, 0, 0, 0, 0, 0, 0, 0, 0, 0, 0, 0, 0, 0, 0, 0, 0, 0, 0, 0, 0, 0, 0, 0, 0, 0, 0, 0, 0, 0, 0, 0, 0, 0, 0, 0, 0, 0, 0, 0, 0, 0, 0, 0, 0, 0, 0, 0, 0, 0, 0, 4, 9, 5, 0, 0, 10, 15.6, 3, 0, 0],
    [0, 0, 0, 0, 0, 0, 0, 0, 0, 0, 0, 0, 0, 0, 0, 0, 0, 0, 0, 0, 0, 0, 0, 0, 0, 0, 0, 0, 0, 3.9, 1, 0, 0, 0, 0, 0, 0, 4, 6, 1, 0, 0, 0, 0, 0, 0, 0, 3, 5, 0, 0, 0, 0, 0, 0, 0, 0, 0, 0, 0, 0],
    [0.5, 0.4, 0, 0, 0, 0, 0, 0, 0, 0, 0, 0, 0, 0, 0, 0, 0, 0, 0, 0, 0, 0, 0, 0, 0, 0, 0, 0, 0, 0, 0, 0, 0, 0, 0, 0, 0, 0, 0, 0, 0, 2, 5, 0, 0, 0, 0, 0, 0, 4, 15.5, 5, 0, 0, 0, 0, 0, 3, 0, 0, 0],
    [0, 0, 0, 0, 0, 0, 0, 0, 0, 0, 0, 0, 0, 0, 0, 0, 0, 0, 0, 0, 0, 0, 0, 0, 0, 0, 0, 0, 0, 0, 0, 0, 0, 0, 0, 0, 0, 0, 0, 0, 0, 0, 0, 0, 3, 5, 0, 0, 0, 0, 0, 0, 0, 0, 6, 18.1, 6, 0, 0, 0, 0],
    [0, 0, 0, 0, 0, 0, 0, 0, 0, 0, 0, 0, 0, 0, 0, 0, 0, 0, 0, 0, 0, 0, 0, 0, 0, 0, 0, 0, 0, 0, 0, 0, 0, 0, 0, 0, 0, 0, 2, 6, 3, 0, 0, 0, 0, 0, 0, 0, 0, 0, 0, 0, 3, 5, 2, 0, 0, 0, 0, 0, 0],
    [0, 0, 0, 0, 0, 0, 0, 0, 0, 0, 0, 0, 0, 0, 0, 0, 0, 0, 0, 0, 0, 0, 0, 0, 0, 0, 0, 0, 0, 0, 0, 0, 0, 0, 0, 0, 0, 0, 0, 0, 0, 0, 0, 0, 0, 0, 6, 12, 4, 0, 0, 0, 0, 0, 0, 0, 0, 0, 0, 5, 8],
    [0, 0, 0, 0, 0, 0, 0, 0, 0, 0, 0, 0, 0, 0, 0, 0, 0, 0, 0, 0, 0, 0, 0, 0, 0, 0, 0, 0, 0, 0, 0, 0, 0, 0, 0, 0, 0, 0, 0, 0, 6, 20.4, 8, 3, 0, 0, 0, 0, 0, 0, 0, 0, 0, 0, 0, 0, 0, 0, 4, 0, 0],
    [0, 0, 0, 0, 0, 0, 0, 0, 0, 0, 0, 0, 0, 0, 0, 0, 0, 0, 0, 0, 0, 0, 0, 0, 0, 0, 0, 0, 0, 0, 0, 0, 0, 0, 0, 0, 0, 0, 0, 0, 0, 4, 13.9, 5, 0, 14.6, 4, 0, 0, 0, 0, 0, 0, 0, 0, 5, 0, 0, 0, 0, 0],
    [0, 0, 0, 0, 0, 0, 0, 0, 0, 0, 0, 0, 0, 0, 0, 0, 0, 0, 0, 0, 0, 0, 0, 0, 0, 0, 0, 0, 0, 0, 0, 0, 0, 0, 0, 0, 0, 0, 0, 0, 0, 0, 0, 0, 3, 6, 2, 0, 0, 0, 0, 0, 0, 4, 7, 0, 0, 0, 0, 0, 0],
    [0, 0, 0, 0, 0, 0, 0, 0, 0, 0, 0, 0, 0, 0, 0, 0, 0, 0, 0, 0, 0, 0, 0, 0, 0, 0, 0, 0, 0, 0, 0, 0, 6, 9.6, 3, 0, 0, 0, 0, 0, 0, 0, 0, 0, 0, 0, 0, 0, 0, 0, 4, 8, 2, 0, 0, 0, 0, 0, 0, 0, 0],
    [0, 0, 0, 0, 0, 0, 0, 0, 0, 0, 0, 0, 0, 0, 0, 0, 0, 0, 0, 0, 0, 0, 0, 0, 0, 0, 0, 0, 0, 0, 0, 0, 0, 0, 0, 0, 0, 0, 0, 0, 0, 0, 0, 5, 8, 2, 0, 0, 0, 0, 0, 0, 0, 0, 0, 3, 6, 0, 0, 0, 0],
    [0, 0, 0, 0, 0, 0, 0, 0, 0, 0, 0, 0, 0, 0, 0, 0, 0, 0, 0, 0, 0, 0, 0, 0, 0, 0, 0, 0, 0, 0, 0, 0, 0, 0, 0, 9.6, 4, 0, 0, 0, 0, 0, 0, 0, 0, 0, 0, 8, 3, 0, 0, 0, 0, 0, 0, 0, 0, 0, 0, 0, 0],
    [0, 0, 0, 0, 0, 0, 0, 0, 0, 0, 0, 0, 0, 0, 0, 0, 0, 0, 0, 0, 0, 0, 0, 0, 0, 0, 0, 0, 0, 0, 0, 0, 0, 0, 0, 0, 0, 0, 4, 8, 14, 6, 0, 14.3, 3, 0, 0, 0, 0, 0, 0, 0, 0, 0, 0, 0, 0, 0, 0, 0, 0],
    [0, 0, 0, 0, 0, 0, 0, 0, 0, 0, 0, 0, 0, 0, 0, 0, 0, 0, 0, 0, 0, 0, 0, 0, 0, 0, 0, 0, 0, 0, 0, 0, 0, 0, 0, 0, 0, 0, 0, 0, 0, 0, 0, 0, 0, 0, 0, 0, 0, 5, 9, 18.6, 4, 0, 0, 0, 0, 0, 0, 0, 8],
    [0, 0, 0, 0, 0, 0, 0, 0, 0, 0, 0, 0, 0, 0, 0, 0, 0, 0, 0, 0, 0, 0, 0, 0, 0, 0, 0, 0, 0, 0, 0, 0, 0, 0, 0, 0, 0, 0, 0, 0, 0, 0, 0, 0, 0, 0, 0, 0, 8, 25.5, 6, 0, 0, 0, 0, 0, 3, 0, 0, 0, 0],
    [0, 0, 0, 2.0, 0, 0, 0, 0, 0, 0, 0, 0, 0, 0, 0, 0, 0, 0, 0, 0, 0, 0, 0, 0, 0, 0, 0, 0, 0, 0, 0, 0, 0, 4, 6, 0, 0, 0, 0, 0, 0, 0, 0, 0, 0, 3, 9, 2, 0, 0, 0, 0, 0, 0, 0, 0, 0, 0, 0, 0, 0],
    [0, 0, 0, 0, 0, 0, 0, 0, 0, 0, 0, 0, 0, 0, 0, 0, 0, 0, 0, 0, 0, 0, 0, 0, 0, 0, 0, 0, 0, 0, 0, 0, 0, 0, 5, 14, 4, 0, 0, 0, 0, 0, 0, 0, 0, 0, 0, 0, 3, 6, 0, 0, 0, 0, 0, 0, 0, 0, 0, 0, 0],
    [0, 0, 0, 0, 0, 0, 0, 0, 0, 0, 0, 0, 0, 0, 0, 0, 0, 0, 0, 0, 0, 0, 0, 0, 0, 0, 0, 0, 0, 0, 0, 0, 0, 0, 13.8, 4, 0, 0, 0, 0, 0, 0, 0, 0, 5, 10, 17.2, 22, 8, 0, 0, 0, 0, 0, 0, 0, 0, 0, 0, 0, 0],
    [0, 0, 0, 0, 0, 0, 0, 0, 0, 0, 0, 0, 0, 0, 0, 0, 0, 0, 0, 0, 0, 0, 0, 0, 0, 0, 0, 0, 0, 0, 0, 0, 0, 0, 0, 0, 0, 6, 18.6, 5, 0, 0, 0, 0, 0, 0, 0, 0, 0, 0, 0, 0, 0, 0, 0, 0, 0, 0, 0, 14, 30],
    [0, 0, 0, 0, 0, 0, 0, 0, 0, 0, 0, 0, 0, 0, 0, 0, 0, 0, 0, 0, 0, 0, 0, 0, 0, 0, 0, 0, 0, 0, 0, 0, 0, 0, 0, 0, 0, 0, 0, 0, 0, 0, 0, 0, 0, 0, 0, 0, 0, 0, 0, 4, 12, 6, 0, 0, 0, 4, 0, 0, 0],
    [0, 0, 0, 1.5, 0, 0, 0, 0, 0, 0, 0, 0, 0, 0, 0, 0, 0, 0, 0, 0, 0, 0, 0, 0, 0, 0, 0, 0, 0, 0, 0, 0, 0, 0, 0, 0, 0, 0, 0, 0, 0, 0, 3, 7, 2, 0, 0, 0, 0, 0, 0, 0, 0, 0, 0, 0, 0, 0, 0, 0, 0],
    [0, 0, 0, 0, 0, 0, 0, 0, 0, 0, 0, 0, 0, 0, 0, 0, 0, 0, 0, 0, 0, 0, 0, 0, 0, 0, 0, 0, 0, 0, 0, 0, 0, 0, 0, 0, 0, 0, 0, 0, 0, 0, 0, 0, 0, 0, 5, 10, 3, 0, 0, 0, 6, 13, 4, 0, 0, 0, 0, 0, 0],
    [0, 0, 0, 0, 0, 0, 0, 0, 0, 0, 0, 0, 0, 0, 0, 0, 0, 0, 0, 0, 0, 0, 0, 0, 0, 0, 0, 0, 0, 0, 0, 0, 0, 0, 0, 0, 0, 0, 0, 3, 5, 2, 0, 0, 0, 0, 0, 0, 0, 0, 0, 0, 0, 0, 0, 0, 3, 6, 0, 0, 0],
    [0, 0, 0, 0, 0, 0, 0, 0, 0, 0, 0, 0, 0, 0, 0, 0, 0, 0, 0, 0, 0, 0, 0, 0, 0, 0, 0, 0, 0, 2, 0, 0, 0, 0, 0, 0, 5, 3, 0, 0, 0, 0, 0, 0, 0, 6, 3, 0, 0, 0, 0, 0, 0, 0, 0, 0, 0, 0, 0, 0, 0],
    [0, 0, 0, 0, 0, 0, 0, 0, 0, 0, 0, 0, 0, 0, 0, 0, 0, 0, 0, 0, 0, 0, 0, 0, 0, 0, 0, 0, 0, 0, 0, 0, 0, 0, 0, 0, 0, 0, 5, 16.7, 18.4, 5, 2, 0, 0, 0, 0, 0, 0, 0, 0, 0, 0, 0, 0, 0, 0, 0, 0, 0, 0],
    [0, 0, 0, 0, 0, 0, 0, 0, 0, 0, 0, 0, 0, 0, 0, 0, 0, 0, 0, 0, 0, 0, 0, 0, 0, 0, 0, 0, 0, 0, 0, 0, 0, 0, 0, 0, 0, 0, 0, 0, 0, 0, 0, 0, 0, 0, 0, 0, 0, 0, 0, 4, 16.3, 5, 0, 0, 0, 3, 0, 0, 0],
    [0, 0, 0, 0, 0, 0, 0, 0, 0, 0, 0, 0, 0, 0, 0, 0, 0, 0, 0, 0, 0, 0, 0, 0, 0, 0, 0, 0, 0, 0, 0, 0, 5, 9.6, 2, 0, 0, 0, 0, 0, 0, 0, 0, 0, 0, 0, 0, 0, 0, 0, 0, 0, 0, 4, 11, 11.5, 3, 0, 0, 0, 0],
    [0, 0, 0, 0, 0, 0, 0, 0, 0, 0, 0, 0, 0, 0, 0, 0, 0, 0, 0, 0, 0, 0, 0, 0, 0, 0, 0, 0, 0, 0, 0, 0, 0, 0, 0, 0, 0, 0, 0, 0, 0, 4, 8, 2, 0, 0, 0, 0, 0, 0, 5, 7, 0, 0, 0, 0, 0, 0, 0, 0, 0],
    [0, 0, 0, 0, 0, 0, 0, 0, 0, 0, 0, 0, 0, 0, 0, 0, 0, 0, 0, 0, 0, 0, 0, 0, 0, 0, 0, 0, 0, 0, 0, 0, 0, 0, 0, 0, 0, 0, 0, 4, 7, 2, 0, 0, 0, 0, 0, 0, 0, 0, 0, 0, 0, 0, 0, 0, 0, 0, 0, 6, 10],
    [0, 0, 0, 0, 0, 0, 0, 0, 0, 0, 0, 0, 0, 0, 0, 0, 0, 0, 0, 0, 0, 0, 0, 0, 0, 0, 0, 0, 0, 0, 0, 0, 0, 0, 0, 0, 0, 0, 0, 0, 0, 0, 0, 0, 0, 0, 0, 0, 0, 0, 0, 0, 8, 31, 14, 4, 0, 0, 0, 0, 0],
    [0, 0, 0, 0, 0, 0, 0, 0, 0, 0, 0, 0, 0, 0, 0, 0, 0, 0, 0, 0, 0, 0, 0, 0, 0, 0, 0, 0, 0, 0, 0, 0, 0, 0, 0, 0, 0, 7.1, 3, 0, 0, 0, 0, 0, 0, 0, 0, 5, 9, 3, 0, 0, 0, 0, 0, 0, 0, 0, 0, 0, 0],
    [0, 0, 0, 0, 0, 0, 0, 0, 0, 0, 0, 0, 0, 0, 0, 0, 0, 0, 0, 0, 0, 0, 0, 0, 0, 0, 0, 0, 0, 0, 0, 0, 0, 0, 0, 0, 0, 0, 0, 0, 0, 0, 0, 0, 4, 8, 3, 0, 0, 0, 0, 0, 0, 0, 0, 2, 0, 0, 0, 0, 0],
    [0, 0, 0, 0, 0, 0, 0, 0, 0, 0, 0, 0, 0, 0, 0, 0, 0, 0, 0, 0, 0, 0, 0, 0, 0, 0, 0, 0, 0, 0, 0, 0, 0, 0, 0, 0, 3, 5, 0, 0, 0, 0, 0, 0, 0, 0, 0, 0, 0, 0, 0, 6, 13, 4, 0, 0, 0, 0, 0, 0, 0],
    [0, 0, 0, 0, 0, 0, 0, 0, 0, 0, 0, 0, 0, 0, 0, 0, 0, 0, 0, 0, 0, 0, 0, 0, 0, 0, 0, 0, 0, 0, 0, 0, 0, 0, 0, 0, 0, 0, 0, 0, 0, 0, 0, 0, 0, 0, 5, 9, 0, 0, 0, 0, 0, 8, 24.3, 7, 0, 0, 0, 0, 0],
    [0, 0, 0, 0, 0, 0, 0, 0, 0, 0, 0, 0, 0, 0, 0, 0, 0, 0, 0, 0, 0, 0, 0, 0, 0, 0, 0, 0, 0, 0, 0, 0, 0, 0, 0, 0, 0, 0, 0, 0, 0, 0, 0, 0, 0, 6, 17.2, 8, 3, 0, 0, 0, 0, 0, 0, 0, 8, 12, 4, 0, 0],
    [0, 0, 0, 0, 0, 0, 0, 0, 0, 0, 0, 0, 0, 0, 0, 0, 0, 0, 0, 0, 0, 0, 0, 0, 0, 0, 0, 0, 0, 0, 0, 0, 0, 0, 5, 49, 6, 2, 0, 0, 0, 0, 0, 0, 0, 0, 0, 0, 0, 0, 0, 0, 0, 0, 8, 12, 4, 0, 0, 0, 0],
    [0, 0, 0, 3.6, 0.8, 0, 0, 0, 0, 0, 0, 0, 0, 0, 0, 0, 0, 0, 0, 0, 0, 0, 0, 0, 0, 0, 0, 0, 0, 6, 2, 0, 0, 0, 0, 0, 0, 0, 0, 0, 0, 0, 0, 0, 0, 0, 6, 27.2, 10, 8, 28.1, 10, 3, 0, 0, 0, 0, 20, 31, 25, 18],
    [0, 0, 0, 2.8, 1.2, 0, 0, 0, 0, 0, 0, 0, 0, 0, 0, 0, 0, 0, 0, 0, 0, 0, 0, 0, 0, 0, 0, 0, 0, 0, 0, 0, 14, 5, 2, 0, 0, 0, 0, 0, 0, 0, 0, 0, 0, 0, 0, 0, 0, 0, 0, 0, 0, 0, 0, 0, 0, 0, 7, 14, 11],
    [0, 0, 0, 0, 0, 0, 0, 0, 0, 0, 0, 0, 0, 0, 0, 0, 0, 0, 0, 0, 0, 0, 0, 0, 0, 0, 0, 0, 0, 0, 0, 0, 0, 0, 0, 0, 0, 0, 0, 0, 3, 4, 1, 0, 0, 0, 0, 0, 0, 5, 12, 3, 0, 0, 0, 0, 0, 0, 0, 0, 0],
    [0, 0, 0, 0, 0, 0, 0, 0, 0, 0, 0, 0, 0, 0, 0, 0, 0, 0, 0, 0, 0, 0, 0, 0, 0, 0, 0, 0, 0, 0, 0, 0, 0, 0, 0, 0, 0, 0, 0, 0, 0, 0, 3, 6, 0, 0, 0, 0, 0, 0, 0, 0, 0, 0, 0, 4, 0, 0, 0, 0, 0],
    [0, 0, 0, 1.5, 2.4, 0.5, 0, 0, 0, 0, 0, 0, 0, 0, 0, 0, 0, 0, 0, 0, 0, 0, 0, 0, 0, 0, 0, 0, 0, 0, 0, 0, 0, 0, 0, 0, 8.7, 3, 0, 0, 0, 0, 0, 0, 0, 0, 0, 4, 7, 2, 0, 0, 0, 0, 0, 0, 0, 0, 0, 0, 0],
    [0, 0, 0, 0, 0, 0, 0, 0, 0, 0, 0, 0, 0, 0, 0, 0, 0, 0, 0, 0, 0, 0, 0, 0, 0, 0, 0, 0, 0, 0, 0, 0, 0, 0, 0, 0, 0, 0, 3, 5, 0, 0, 0, 0, 0, 0, 0, 0, 0, 0, 0, 0, 5, 9, 3, 0, 0, 0, 0, 0, 0],
    [0, 0, 0, 0, 0, 0, 0, 0, 0, 0, 0, 0, 0, 0, 0, 0, 0, 0, 0, 0, 0, 0, 0, 0, 0, 0, 0, 0, 0, 0, 0, 0, 0, 0, 0, 0, 0, 0, 0, 0, 0, 0, 0, 0, 0, 0, 4, 6, 0, 0, 0, 0, 0, 0, 0, 0, 0, 8, 18.1, 9, 5],
]

MEMBER_COLORS = ['#d4a0a8', '#d0a0e0', '#e08090', '#a05030', '#a0d0f0', '#8050b0', '#c0c020', '#e0b060',
                 '#80b070', '#30c070', '#c04080', '#c020c0', '#e03060', '#a0b0e0', '#d0b080', '#2060c0',
                 '#c0c060', '#b0e050', '#60a0e0', '#60e0e0', '#c05030', '#a0c8a0', '#c050d0', '#207060',
                 '#b02030', '#c09070', '#903070', '#603080', '#904050', '#205090', '#50c090', '#30e0e0',
                 '#6020d0', '#a09050', '#80d080', '#c0e080', '#705030', '#e06060', '#302070', '#50d040',
                 '#b0d0c0', '#a02040', '#e090d0', '#7090b0', '#a030c0', '#20e090', '#e0e0a0', '#409090',
                 '#508030', '#8050e0']

DATE_LABELS = ['17/08', '18/08', '19/08', '20/08', '21/08', '22/08', '23/08', '24/08',
               '25/08', '26/08', '27/08', '28/08', '29/08', '30/08', '31/08']
DATE_HOURS = [12, 36, 60, 84, 108, 132, 156, 180, 204, 228, 252, 276, 300, 324, 348]
LEFT_TICKS = [30, 25, 20, 15, 10, 5, 0, -5, -10, -15, -20, -25, -30, -35, -40, -45]
RIGHT_TICKS = [75, 70, 65, 60, 55, 50, 45, 40, 35, 30, 25, 20, 15, 10, 5, 0]
GRID_THICK = [30, 20, 10, -10, -20, -30, -40]
GRID_THIN = [25, 15, 5, -5, -15, -25, -35]

# ---------------- FIGURE ----------------
FONT = "DejaVu Sans Mono"
Y_RANGE = [-52.57, 33.14]
Y2_RANGE = [Y_RANGE[0] + 45, Y_RANGE[1] + 45]


def px_x(px):
    return (px - 50) / 640.0


def px_y(py):
    return (600 - py) / 600.0


fig = go.Figure()

# members: temperatures (850 + 500) on the left axis
for i, col in enumerate(MEMBER_COLORS):
    t850 = MEMBERS_850[i]
    t500 = MEMBERS_500[i]
    xs = H12[:len(t850)] + [None] + H12[:len(t500)]
    ys = t850 + [None] + t500
    fig.add_trace(go.Scatter(
        x=xs, y=ys, mode='lines+markers', connectgaps=False,
        line=dict(color=col, width=1),
        marker=dict(symbol='cross-thin', size=4, line=dict(width=1, color=col)),
        hoverinfo='skip', showlegend=False))

# control & main run, mean temperatures
for series, hrs, col, w in [
        (CTRL_850, H6, '#0000ff', 3.5), (CTRL_500, H6, '#0000ff', 3.5),
        (RUN_850, H6, '#000000', 4), (RUN_500, H6, '#000000', 4),
        (MEAN_850, H6, '#ff0000', 4.5), (MEAN_500, H6, '#ff0000', 4.5)]:
    fig.add_trace(go.Scatter(x=hrs[:len(series)], y=series, mode='lines',
                             line=dict(color=col, width=w), hoverinfo='skip', showlegend=False))

# precipitation on the right (mm) axis
for i, col in enumerate(MEMBER_COLORS):
    pr = MEMBERS_PR[i]
    fig.add_trace(go.Scatter(
        x=H6[:len(pr)], y=pr, yaxis='y2', mode='lines+markers',
        line=dict(color=col, width=1),
        marker=dict(symbol='cross-thin', size=4, line=dict(width=1, color=col)),
        hoverinfo='skip', showlegend=False))
for series, col, w in [(CTRL_PR, '#0000ff', 3), (RUN_PR, '#000000', 3.5), (MEAN_PR, '#ff0000', 4.5)]:
    fig.add_trace(go.Scatter(x=H6[:len(series)], y=series, yaxis='y2', mode='lines',
                             line=dict(color=col, width=w), hoverinfo='skip', showlegend=False))

shapes = []
for v in GRID_THICK:
    shapes.append(dict(type='line', xref='paper', x0=0, x1=1, yref='y', y0=v, y1=v,
                       line=dict(color='#c0c0c0', width=2.5), layer='below'))
for v in GRID_THIN:
    shapes.append(dict(type='line', xref='paper', x0=0, x1=1, yref='y', y0=v, y1=v,
                       line=dict(color='#c0c0c0', width=1), layer='below'))
# panel separator
shapes.append(dict(type='line', xref='paper', x0=0, x1=1, yref='y', y0=0.3, y1=0.3,
                   line=dict(color='#9a9a9a', width=3), layer='below'))

# legend lines
for (x0, x1, y, c) in [(35, 65, 636, '#ff0000'), (225, 255, 636, '#0000ff'), (225, 255, 647, '#000000')]:
    shapes.append(dict(type='line', xref='paper', yref='paper', x0=px_x(x0), x1=px_x(x1),
                       y0=px_y(y), y1=px_y(y), line=dict(color=c, width=4)))

# members colour table
for k in range(25):
    x0 = 427 + 11 * k
    for row, (ya, yb) in enumerate([(644, 652), (652, 660)]):
        shapes.append(dict(type='rect', xref='paper', yref='paper',
                           x0=px_x(x0), x1=px_x(x0 + 10), y0=px_y(yb), y1=px_y(ya),
                           fillcolor=MEMBER_COLORS[k + 25 * row], line=dict(width=0)))

# title box
shapes.append(dict(type='rect', xref='paper', yref='paper', x0=px_x(20), x1=px_x(440),
                   y0=px_y(699), y1=px_y(668), line=dict(color='black', width=1)))

ann = []


def text(s, px, py, size=10, anchor='left', bold=False, yanchor='middle'):
    ann.append(dict(text=('<b>%s</b>' % s) if bold else s, xref='paper', yref='paper',
                    x=px_x(px), y=px_y(py), xanchor=anchor, yanchor=yanchor, showarrow=False,
                    font=dict(family=FONT, size=size, color='black')))


for v in LEFT_TICKS:
    ann.append(dict(text=str(v), xref='paper', yref='y', x=px_x(19), y=v, xanchor='left',
                    yanchor='middle', showarrow=False, font=dict(family=FONT, size=11, color='black')))
for v in RIGHT_TICKS:
    ann.append(dict(text=str(v), xref='paper', yref='y2', x=px_x(715.5), y=v, xanchor='center',
                    yanchor='middle', showarrow=False, font=dict(family=FONT, size=11, color='black')))
for lab, h in zip(DATE_LABELS, DATE_HOURS):
    ann.append(dict(text=lab, xref='x', yref='paper', x=h + 3.1, y=px_y(601), xanchor='center',
                    yanchor='top', textangle=-90, showarrow=False,
                    font=dict(family=FONT, size=10, color='black')))

text('Temp. 850hPa', 59, 57)
text('Temp. 500hPa', 59, 273)
text('Précipitations', 59, 514)
text('(°C)', 19, 607, size=11)
text('(mm)', 709, 607, size=11)
text('Moyenne des scénarios', 74, 637)
text('Run de contrôle', 264, 637)
text('Run CEP/ECMWF', 264, 647)
text('50 Perts.', 369, 652, size=10.5)
for k in range(25):
    text('%02d' % (k + 1), 432 + 11 * k, 639, size=7.5, anchor='center')
    text('%02d' % (k + 26), 432 + 11 * k, 664, size=7.5, anchor='center')
text('Diagramme ensembles ECMWF/CEP 0.4° sur 360h pour Bourg-en-Bresse', 28, 677, size=11.5, bold=True)
text('Températures 850hPa et 500hPa (°C) , précipitations (mm)', 28, 692, size=10)
text('Ensemble ECMWF/CEP du 16/08/2023 - 12Z', 449, 675, size=10)
text('Copyright 2023 Meteociel.fr - ECMWF', 449, 691, size=11.5, bold=True)

fig.update_layout(
    width=740, height=700,
    margin=dict(l=50, r=50, t=0, b=100),
    paper_bgcolor='white', plot_bgcolor='white',
    font=dict(family=FONT, size=10, color='black'),
    showlegend=False,
    xaxis=dict(range=[0, 360], tick0=12, dtick=24, showgrid=True, gridcolor='#c0c0c0', gridwidth=1,
               showticklabels=False, ticks='', zeroline=False, showline=True, linecolor='black',
               linewidth=2, fixedrange=True),
    yaxis=dict(range=Y_RANGE, showgrid=False, showticklabels=False, ticks='', zeroline=False,
               showline=True, linecolor='black', linewidth=1.5, mirror=True, fixedrange=True),
    yaxis2=dict(range=Y2_RANGE, overlaying='y', side='right', showgrid=False, showticklabels=False,
                ticks='', zeroline=False, showline=False, fixedrange=True),
    shapes=shapes,
    annotations=ann,
)

fig.write_html("out.html", config={'displayModeBar': False},
               post_script="document.body.style.margin='0px';document.body.style.padding='0px';"
                           "document.body.style.overflow='hidden';")
